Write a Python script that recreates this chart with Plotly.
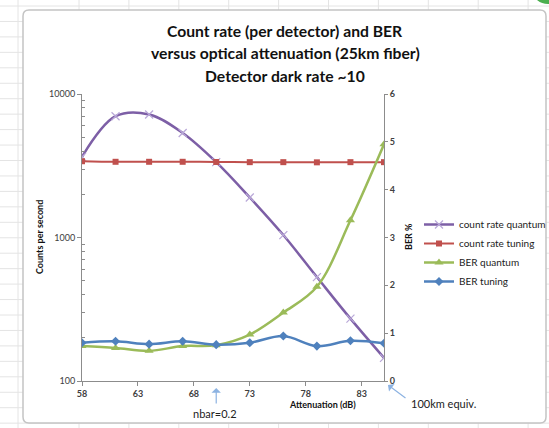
import plotly.graph_objects as go

attenuation = [58, 61, 64, 67, 70, 73, 76, 79, 82, 85]
count_rate_quantum = [3650, 7000, 7200, 5350, 3350, 1900, 1040, 530, 272, 145]
count_rate_tuning = [3400, 3370, 3370, 3370, 3360, 3350, 3350, 3340, 3350, 3350]
ber_quantum = [0.73, 0.69, 0.63, 0.73, 0.75, 0.97, 1.43, 1.97, 3.36, 4.95]
ber_tuning = [0.80, 0.83, 0.77, 0.83, 0.76, 0.80, 0.94, 0.73, 0.84, 0.79]
x_ticks = [58, 63, 68, 73, 78, 83]
left_ticks = [100, 1000, 10000]
left_minor = [200, 300, 400, 500, 600, 700, 800, 900, 2000, 3000, 4000, 5000, 6000, 7000, 8000, 9000]
right_ticks = [0, 1, 2, 3, 4, 5, 6]

W, H = 549, 428
PL, PR, PT, PB = 82, 384, 94, 381
FONT = "Lato"


def px(x):
    return (x - PL) / (PR - PL)


def py(y):
    return (PB - y) / (PB - PT)


fig = go.Figure()

fig.add_trace(go.Scatter(
    x=attenuation, y=count_rate_quantum, name="count rate quantum",
    mode="lines+markers", line=dict(color="#7D5FA6", width=2.5, shape="spline"),
    marker=dict(symbol="x-thin", size=8, line=dict(color="#B9A8D8", width=1.2), color="#B9A8D8"),
    legendgroup="a", yaxis="y"))
fig.add_trace(go.Scatter(
    x=attenuation, y=count_rate_tuning, name="count rate tuning",
    mode="lines+markers", line=dict(color="#C0504D", width=2, shape="spline"),
    marker=dict(symbol="square", size=6, color="#C0504D"),
    legendgroup="b", yaxis="y"))
fig.add_trace(go.Scatter(
    x=attenuation, y=ber_quantum, name="BER quantum",
    mode="lines+markers", line=dict(color="#9BBB59", width=2.5, shape="spline"),
    marker=dict(symbol="triangle-up", size=8, color="#9BBB59"),
    legendgroup="c", yaxis="y2"))
fig.add_trace(go.Scatter(
    x=attenuation, y=ber_tuning, name="BER tuning",
    mode="lines+markers", line=dict(color="#4F81BD", width=2.5, shape="spline"),
    marker=dict(symbol="diamond", size=7, color="#4F81BD"),
    legendgroup="d", yaxis="y2"))

shapes = []
# spreadsheet grid in the background
gx = [18] + [79 + 49.9 * k for k in range(10)]
for x in gx:
    shapes.append(dict(type="line", xref="paper", yref="paper", x0=px(x), x1=px(x),
                       y0=py(0), y1=py(H), line=dict(color="#E4E4E4", width=1), layer="below"))
for k in range(28):
    y = 6 + 15.45 * k
    shapes.append(dict(type="line", xref="paper", yref="paper", x0=px(0), x1=px(W),
                       y0=py(y), y1=py(y), line=dict(color="#E4E4E4", width=1), layer="below"))

# chart frame (rounded)
x0, y0, x1, y1, r = 23, 10, 546, 423, 6
path = (f"M {px(x0 + r)},{py(y0)} L {px(x1 - r)},{py(y0)} Q {px(x1)},{py(y0)} {px(x1)},{py(y0 + r)} "
        f"L {px(x1)},{py(y1 - r)} Q {px(x1)},{py(y1)} {px(x1 - r)},{py(y1)} "
        f"L {px(x0 + r)},{py(y1)} Q {px(x0)},{py(y1)} {px(x0)},{py(y1 - r)} "
        f"L {px(x0)},{py(y0 + r)} Q {px(x0)},{py(y0)} {px(x0 + r)},{py(y0)} Z")
shapes.append(dict(type="path", xref="paper", yref="paper", path=path,
                   fillcolor="white", line=dict(color="#C4C4C4", width=1.5), layer="below"))
# green blob top-right
shapes.append(dict(type="circle", xref="paper", yref="paper",
                   x0=px(533), x1=px(563), y0=py(-22), y1=py(4),
                   fillcolor="#4CAF50", line=dict(width=0), layer="below"))

annotations = []


def note(text, x, y, size, angle=0, color="#111111"):
    annotations.append(dict(text=text, xref="paper", yref="paper", x=px(x), y=py(y),
                            showarrow=False, xanchor="center", yanchor="middle",
                            textangle=angle,
                            font=dict(family=FONT, size=size, color=color)))


title_lines = ["Count rate (per detector) and BER",
               "versus optical attenuation (25km fiber)",
               "Detector dark rate ~10"]
for i, t in enumerate(title_lines):
    note(f"<b>{t}</b>", 285, 31 + 22.3 * i, 15.7)

note("<b>Counts per second</b>", 39, 237, 9, angle=-90)
note("<b>BER %</b>", 408, 237, 9, angle=-90)
note("<b>Attenuation (dB)</b>", 322, 404.5, 9)
note("nbar=0.2", 215, 413, 11, color="#222222")
note("100km equiv.", 444, 403.5, 11, color="#222222")

# arrows
annotations.append(dict(text="", x=70, xref="x", y=py(388), yref="paper",
                        showarrow=True, ax=0, ay=17, arrowhead=1, arrowsize=1.3,
                        arrowwidth=1.2, arrowcolor="#8DB3E2"))
annotations.append(dict(text="", xref="paper", yref="paper", x=px(388), y=py(385),
                        showarrow=True, ax=19, ay=14, arrowhead=1, arrowsize=1.3,
                        arrowwidth=1.2, arrowcolor="#8DB3E2"))

axis_line = "#8C8C8C"

fig.update_layout(
    width=W, height=H,
    margin=dict(l=PL, r=W - PR, t=PT, b=H - PB, pad=0, autoexpand=False),
    paper_bgcolor="white", plot_bgcolor="rgba(0,0,0,0)",
    font=dict(family=FONT),
    showlegend=True,
    legend=dict(x=px(419), y=py(210), xanchor="left", yanchor="top",
                font=dict(family=FONT, size=10, color="#222222"),
                bgcolor="rgba(0,0,0,0)", tracegroupgap=0, itemwidth=30,
                traceorder="grouped"),
    xaxis=dict(range=[58, 85], tickmode="array", tickvals=x_ticks,
               ticktext=[f"<b>{v}</b>" for v in x_ticks],
               showgrid=False, zeroline=False, showline=True, linecolor=axis_line,
               linewidth=1, ticks="outside", ticklen=4, tickcolor=axis_line,
               tickfont=dict(family=FONT, size=9, color="#404040")),
    yaxis=dict(type="log", range=[2, 4], tickmode="array", tickvals=left_ticks,
               ticktext=[str(v) for v in left_ticks],
               showgrid=False, zeroline=False, showline=True, linecolor=axis_line,
               linewidth=1, ticks="outside", ticklen=4, tickcolor=axis_line,
               tickfont=dict(family=FONT, size=9, color="#404040"),
               minor=dict(tickmode="array", tickvals=left_minor, ticks="inside",
                          ticklen=3, tickcolor=axis_line, showgrid=False)),
    yaxis2=dict(range=[0, 6], tickmode="array", tickvals=right_ticks,
                ticktext=[f"<b>{v}</b>" for v in right_ticks],
                overlaying="y", side="right", anchor="x",
                showgrid=False, zeroline=False, showline=True, linecolor=axis_line,
                linewidth=1, ticks="outside", ticklen=3, tickcolor=axis_line,
                tickfont=dict(family=FONT, size=9, color="#404040")),
    shapes=shapes,
    annotations=annotations,
)

fig.write_html("out.html", config={"displayModeBar": False},
               post_script="document.body.style.margin='0px';")
